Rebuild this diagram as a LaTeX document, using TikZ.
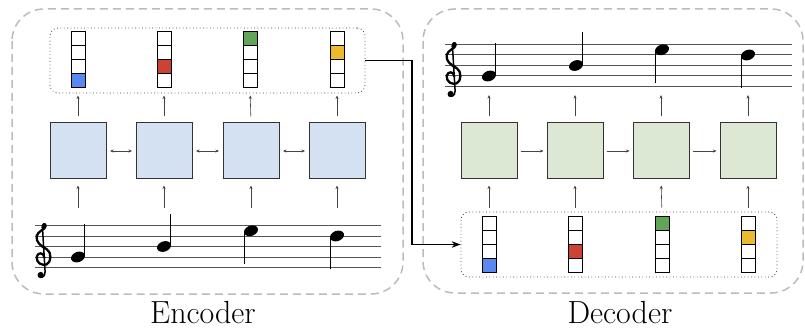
\documentclass[tikz,border=0pt]{standalone}
\usetikzlibrary{arrows.meta}
\definecolor{encfill}{HTML}{D4E1F3}
\definecolor{decfill}{HTML}{DCE8D4}
\definecolor{vblue}{HTML}{5B88F0}
\definecolor{vred}{HTML}{CB4335}
\definecolor{vgreen}{HTML}{62A558}
\definecolor{vyellow}{HTML}{ECBA2E}
\definecolor{dashgray}{HTML}{BBBBBB}
\definecolor{boxline}{HTML}{333333}
\definecolor{arrgray}{HTML}{444444}
\definecolor{staffgray}{HTML}{555555}
\begin{document}
\begin{tikzpicture}[x=1pt,y=-1pt,
  outerbox/.style={draw=dashgray, line width=1.5pt, dash pattern=on 8pt off 5pt, rounded corners=32pt},
  dotbox/.style={draw=black!75, line width=0.8pt, dash pattern=on 0.8pt off 2.6pt, rounded corners=8pt, minimum width=#1, minimum height=65pt, inner sep=0},
  encbox/.style={draw=boxline, line width=1pt, fill=encfill, minimum width=56pt, minimum height=56pt, inner sep=0},
  decbox/.style={draw=boxline, line width=1pt, fill=decfill, minimum width=56pt, minimum height=56pt, inner sep=0},
  cell/.style={draw=black, line width=1pt, minimum width=14pt, minimum height=14pt, inner sep=0},
  arr/.style={-{Stealth[length=3.5pt,width=3pt]}, line width=0.6pt, draw=arrgray},
  barr/.style={{Stealth[length=3.5pt,width=3pt]}-{Stealth[length=3.5pt,width=3pt]}, line width=0.9pt, draw=arrgray},
  conn/.style={-{Stealth[length=9pt,width=6.5pt]}, line width=1.2pt, draw=black},
  staffline/.style={draw=staffgray, line width=1pt},
  stem/.style={draw=black, line width=1.4pt},
  label/.style={font=\fontsize{32}{36}\selectfont, anchor=base, inner sep=0},
  trebleclef/.pic={
    \begin{scope}[x=10.5pt,y=10.5pt]
      \draw[line width=2.3pt, line cap=round, line join=round]
        (0.12,-0.05)
        .. controls (0.15,0.45) and (-0.55,0.5) .. (-0.6,0.0)
        .. controls (-0.65,-0.6) and (-0.05,-0.85) .. (0.35,-0.7)
        .. controls (0.8,-0.5) and (0.85,0.45) .. (0.35,0.75)
        .. controls (-0.2,1.05) and (-0.7,1.4) .. (-0.6,2.0)
        .. controls (-0.5,2.5) and (0.25,2.6) .. (0.25,2.95)
        .. controls (0.25,3.2) and (0.0,3.25) .. (-0.05,2.8);
      \draw[line width=1.5pt, line cap=round]
        (-0.05,2.8) -- (0.2,-1.4)
        .. controls (0.25,-2.0) and (-0.35,-2.05) .. (-0.4,-1.75);
      \fill (-0.22,-1.72) circle (0.3);
    \end{scope}
  }
]
\useasboundingbox (0,0) rectangle (805,331);

% outer dashed boxes
\draw[outerbox] (12,9) rectangle (403,294);
\draw[outerbox] (423,9) rectangle (803,293);

% ---------------- Encoder ----------------
\node[dotbox=315pt] (encdot) at (207.5,60.5) {};
\foreach \cx/\hi/\col [count=\i] in {78/4/vblue,164/3/vred,250/1/vgreen,337/2/vyellow}{
  \foreach \k in {1,...,4}{
    \ifnum\k=\hi\def\fc{\col}\else\def\fc{white}\fi
    \node[cell, fill=\fc] (ev\i-\k) at (\cx,25+14*\k) {};
  }
}
\foreach \cx [count=\i] in {78,164,251,337}{
  \node[encbox] (e\i) at (\cx,151) {};
  \coordinate (es\i) at (\cx,208);
  \draw[arr, shorten <=6pt, shorten >=7pt] (e\i.north) -- (ev\i-4.south);
  \draw[arr, shorten >=6pt] (es\i) -- (e\i.south);
}
\foreach \a/\b in {1/2,2/3,3/4}{
  \draw[barr, shorten <=3.5pt, shorten >=3.5pt] (e\a.east) -- (e\b.west);
}
% encoder staff
\foreach \j in {0,...,4}{
  \draw[staffline] (35,225.5+10.5*\j) -- (381,225.5+10.5*\j);
}
\pic at (43,257) {trebleclef};
\foreach \nx/\ny/\st in {78/257/1,164/246.5/1,251/230.75/-1,337/236/-1}{
  \fill[rotate around={20:(\nx,\ny)}] (\nx,\ny) ellipse [x radius=7.2, y radius=5.1];
  \draw[stem] (\nx+6.6*\st,\ny-1*\st) -- (\nx+6.6*\st,\ny-33*\st);
}
\node[label] (enclabel) at (203,323) {Encoder};

% ---------------- Decoder ----------------
\node[dotbox=316pt] (decdot) at (619,244.5) {};
\foreach \cx/\hi/\col [count=\i] in {489/4/vblue,575/3/vred,662/1/vgreen,748/2/vyellow}{
  \foreach \k in {1,...,4}{
    \ifnum\k=\hi\def\fc{\col}\else\def\fc{white}\fi
    \node[cell, fill=\fc] (dv\i-\k) at (\cx,209+14*\k) {};
  }
}
\foreach \cx [count=\i] in {489,575,661,748}{
  \node[decbox] (d\i) at (\cx,151) {};
  \coordinate (ds\i) at (\cx,95);
  \draw[arr, shorten <=6pt] (d\i.north) -- (ds\i);
  \draw[arr, shorten <=8pt, shorten >=6pt] (dv\i-1.north) -- (d\i.south);
}
\foreach \a/\b in {1/2,2/3,3/4}{
  \draw[arr, shorten <=3pt, shorten >=3pt] (d\a.east) -- (d\b.west);
}
% decoder staff
\foreach \j in {0,...,4}{
  \draw[staffline] (445,44.5+10.5*\j) -- (792,44.5+10.5*\j);
}
\pic at (453,76) {trebleclef};
\foreach \nx/\ny/\st in {489/76/1,576/65.5/1,662/49.75/-1,748/55/-1}{
  \fill[rotate around={20:(\nx,\ny)}] (\nx,\ny) ellipse [x radius=7.2, y radius=5.1];
  \draw[stem] (\nx+6.6*\st,\ny-1*\st) -- (\nx+6.6*\st,\ny-33*\st);
}
\node[label] (declabel) at (620,323) {Decoder};

% connector encoder -> decoder
\coordinate (bend) at (412,150);
\draw[conn] (encdot.east) -| (bend) |- (decdot.west);
\end{tikzpicture}
\end{document}
